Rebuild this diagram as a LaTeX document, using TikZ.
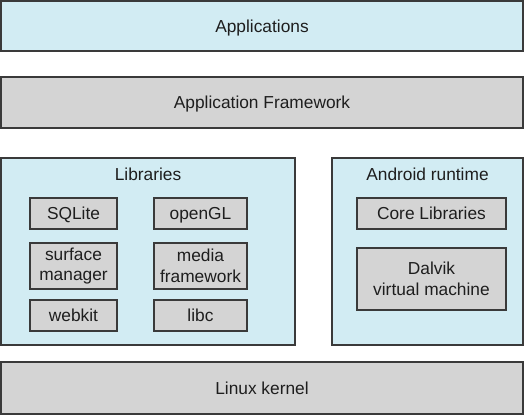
\documentclass[tikz,border=0pt]{standalone}
\usepackage{fontspec}
\setmainfont{Liberation Sans}
\definecolor{lblue}{HTML}{D2ECF3}
\definecolor{lgray}{HTML}{D4D4D4}
\definecolor{edge}{HTML}{3A3A3A}
\definecolor{txt}{HTML}{1E1E1E}
\tikzset{
  layer/.style={draw=edge, line width=1.1pt, inner sep=0pt, outer sep=0pt, align=center,
    text=txt, font=\fontsize{13}{15.5}\selectfont},
  bluebox/.style={layer, fill=lblue},
  graybox/.style={layer, fill=lgray},
  oneline/.style={text depth=0pt},
  lbl/.style={text=txt, font=\fontsize{13}{15.5}\selectfont, inner sep=0pt, text depth=0pt}
}
\begin{document}
\begin{tikzpicture}[x=0.75pt,y=-0.75pt]
\useasboundingbox (0,0) rectangle (524,415);
\node[bluebox, oneline, minimum width=391.5pt, minimum height=37.5pt] (app) at (262,26) {Applications};
\node[graybox, oneline, minimum width=391.5pt, minimum height=38.25pt] (fw) at (262,102.5) {Application Framework};
\node[bluebox, minimum width=220.5pt, minimum height=140.25pt] (lib) at (148,251.5) {};
\node[lbl] (libt) at (148,174) {Libraries};
\node[bluebox, minimum width=143.25pt, minimum height=140.25pt] (and) at (427.5,251.5) {};
\node[lbl] (andt) at (427.5,174) {Android runtime};
\node[graybox, oneline, minimum width=391.5pt, minimum height=39pt] (kern) at (262,388) {Linux kernel};
\node[graybox, oneline, minimum width=65.25pt, minimum height=23.25pt] (sql) at (73.5,213.5) {SQLite};
\node[graybox, oneline, minimum width=69.75pt, minimum height=23.25pt] (gl) at (200.5,213.5) {openGL};
\node[graybox, minimum width=65.25pt, minimum height=34.5pt] (surf) at (73.5,266) {surface\\manager};
\node[graybox, minimum width=69.75pt, minimum height=34.5pt] (media) at (200.5,266) {media\\framework};
\node[graybox, oneline, minimum width=65.25pt, minimum height=23.25pt] (web) at (73.5,315.5) {webkit};
\node[graybox, oneline, minimum width=69.75pt, minimum height=23.25pt] (libc) at (200.5,315.5) {libc};
\node[graybox, oneline, minimum width=111.75pt, minimum height=23.25pt] (core) at (431.5,213.5) {Core Libraries};
\node[graybox, minimum width=111.75pt, minimum height=46.5pt] (dalvik) at (431.5,279) {Dalvik\\virtual machine};
\end{tikzpicture}
\end{document}
